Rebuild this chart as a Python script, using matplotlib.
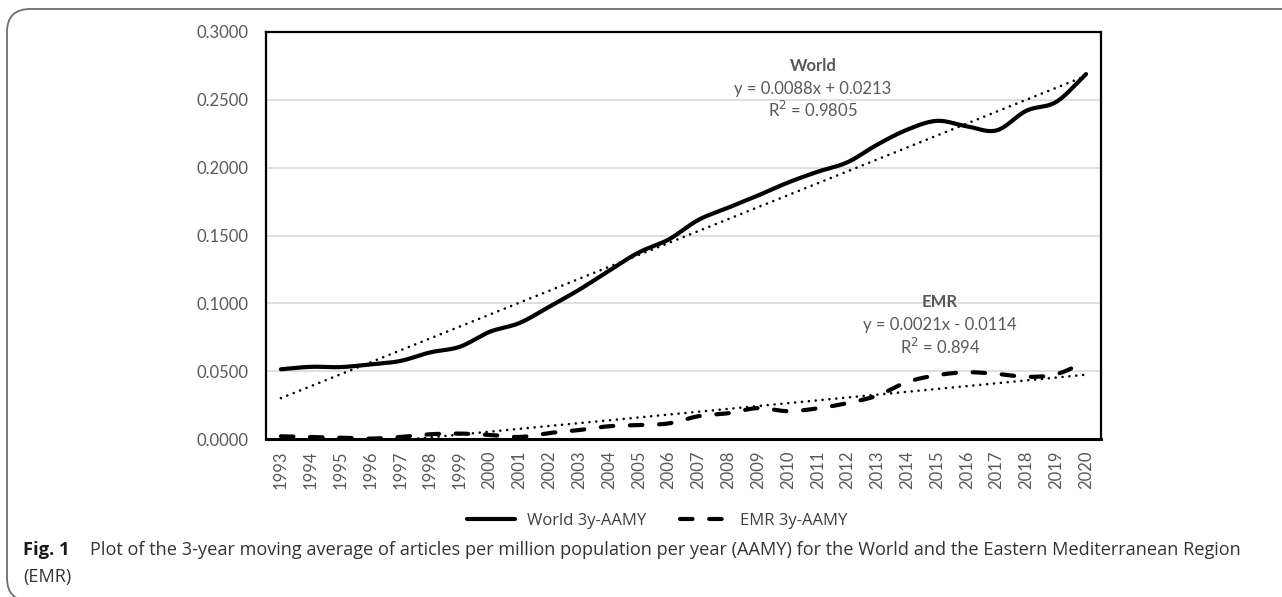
import numpy as np
import matplotlib
matplotlib.use("Agg")
import matplotlib.pyplot as plt
from matplotlib.patches import FancyBboxPatch
from matplotlib.lines import Line2D

# 3-year moving average of articles per million population per year
years = list(range(1993, 2021))
world_aamy = [0.0514, 0.0532, 0.0530, 0.0550, 0.0575, 0.0638, 0.0680, 0.0790,
              0.0855, 0.0975, 0.1100, 0.1240, 0.1375, 0.1470, 0.1615, 0.1705,
              0.1795, 0.1890, 0.1970, 0.2040, 0.2170, 0.2280, 0.2345, 0.2305,
              0.2275, 0.2420, 0.2485, 0.2690]
emr_aamy = [0.0020, 0.0015, 0.0010, 0.0003, 0.0015, 0.0035, 0.0040, 0.0030,
            0.0015, 0.0044, 0.0066, 0.0094, 0.0103, 0.0115, 0.0168, 0.0190,
            0.0228, 0.0205, 0.0226, 0.0265, 0.0320, 0.0420, 0.0470, 0.0492,
            0.0480, 0.0458, 0.0478, 0.0570]

# linear trend coefficients (x = 1..28)
world_slope, world_icpt, world_r2 = 0.0088, 0.0213, "0.9805"
emr_slope, emr_icpt, emr_r2 = 0.0021, -0.0114, "0.894"

y_ticks = [0.0, 0.05, 0.10, 0.15, 0.20, 0.25, 0.30]

GREY = "#595959"
TICK_FONT = ["Lato", "DejaVu Sans"]
CAP_FONT = ["Open Sans", "DejaVu Sans"]

W, H = 1282, 597


def smooth(x, y, n=20):
    # Catmull-Rom curve through the points, like a spreadsheet "smoothed line"
    x = np.asarray(x, float)
    y = np.asarray(y, float)
    px = np.concatenate([[2 * x[0] - x[1]], x, [2 * x[-1] - x[-2]]])
    py = np.concatenate([[2 * y[0] - y[1]], y, [2 * y[-1] - y[-2]]])
    out_x, out_y = [], []
    t = np.linspace(0, 1, n, endpoint=False)
    for i in range(1, len(px) - 2):
        for p, out in ((px, out_x), (py, out_y)):
            p0, p1, p2, p3 = p[i - 1], p[i], p[i + 1], p[i + 2]
            out.extend(0.5 * ((2 * p1) + (-p0 + p2) * t
                              + (2 * p0 - 5 * p1 + 4 * p2 - p3) * t ** 2
                              + (-p0 + 3 * p1 - 3 * p2 + p3) * t ** 3))
    out_x.append(x[-1])
    out_y.append(y[-1])
    return np.array(out_x), np.array(out_y)


fig = plt.figure(figsize=(W / 100, H / 100), dpi=100)

# frame around the figure panel (right and bottom edges run off the page)
frame = FancyBboxPatch((7 / W, -4 / H), 1.1, (H - 9 + 4) / H,
                       boxstyle="round,pad=0,rounding_size=0.018",
                       transform=fig.transFigure, fill=False,
                       edgecolor="#6e6e6e", linewidth=1.3,
                       mutation_aspect=W / H)
fig.patches.append(frame)

ax = fig.add_axes([266 / W, 1 - 439 / H, (1101 - 266) / W, (439 - 32) / H])

pos = np.arange(1, len(years) + 1)

ax.plot(*smooth(pos, world_aamy), color="black", lw=3.0,
        solid_capstyle="round", zorder=4)
ax.plot(*smooth(pos, emr_aamy), color="black", lw=3.0,
        dashes=(3.0, 4.0), dash_capstyle="round", zorder=4)

ax.plot(pos, world_slope * pos + world_icpt, color="black", lw=1.9,
        dashes=(0.01, 2.6), dash_capstyle="round", zorder=3)
ax.plot(pos, emr_slope * pos + emr_icpt, color="black", lw=1.9,
        dashes=(0.01, 2.6), dash_capstyle="round", zorder=3)

ax.set_xlim(0.5, len(years) + 0.5)
ax.set_ylim(0, 0.30)
ax.set_yticks(y_ticks)
ax.set_yticklabels([f"{v:.4f}" for v in y_ticks])
ax.set_xticks(pos)
ax.set_xticklabels([str(y) for y in years], rotation=90)
ax.tick_params(axis="both", length=0, colors=GREY, labelsize=12)
ax.tick_params(axis="y", pad=12.5)
ax.tick_params(axis="x", pad=8.5)
for lab in ax.get_xticklabels() + ax.get_yticklabels():
    lab.set_family(TICK_FONT)

ax.grid(axis="y", color="#d9d9d9", lw=1.2)
ax.set_axisbelow(True)
for sp in ax.spines.values():
    sp.set_color("black")
    sp.set_linewidth(1.6)
ax.spines["bottom"].set_linewidth(2.2)

# trend equations
ax.text(0.655, 0.905, "World", transform=ax.transAxes, ha="center",
        fontsize=12, fontweight="bold", color=GREY, family=TICK_FONT)
ax.text(0.655, 0.848, f"y = {world_slope:.4f}x + {world_icpt:.4f}",
        transform=ax.transAxes, ha="center", fontsize=12, color=GREY, family=TICK_FONT)
ax.text(0.655, 0.790, f"R$^2$ = {world_r2}", transform=ax.transAxes, ha="center",
        fontsize=12, color=GREY, family=TICK_FONT)

ax.text(0.807, 0.325, "EMR", transform=ax.transAxes, ha="center",
        fontsize=12, fontweight="bold", color=GREY, family=TICK_FONT)
ax.text(0.807, 0.267, f"y = {emr_slope:.4f}x - {abs(emr_icpt):.4f}",
        transform=ax.transAxes, ha="center", fontsize=12, color=GREY, family=TICK_FONT)
ax.text(0.807, 0.210, f"R$^2$ = {emr_r2}", transform=ax.transAxes, ha="center",
        fontsize=12, color=GREY, family=TICK_FONT)

handles = [Line2D([], [], color="black", lw=3.0, solid_capstyle="round"),
           Line2D([], [], color="black", lw=3.0, dashes=(3.0, 4.0), dash_capstyle="round")]
leg = fig.legend(handles, ["World 3y-AAMY", "EMR 3y-AAMY"], loc="center",
                 bbox_to_anchor=(657 / W, 1 - 521 / H), ncol=2, frameon=False,
                 handlelength=2.9, columnspacing=2.0, handletextpad=0.7,
                 prop={"family": CAP_FONT, "size": 12})
for t in leg.get_texts():
    t.set_color("#404040")

fig.text(23 / W, 1 - 550 / H, "Fig. 1", fontsize=13.2, fontweight="bold",
         color="#1a1a1a", va="center", family=CAP_FONT)
fig.text(90 / W, 1 - 550 / H,
         "Plot of the 3-year moving average of articles per million population per year "
         "(AAMY) for the World and the Eastern Mediterranean Region",
         fontsize=13.1, color="#333333", va="center", family=CAP_FONT)
fig.text(23 / W, 1 - 577 / H, "(EMR)", fontsize=13.1, color="#333333",
         va="center", family=CAP_FONT)

fig.savefig("out.png", dpi=100)
